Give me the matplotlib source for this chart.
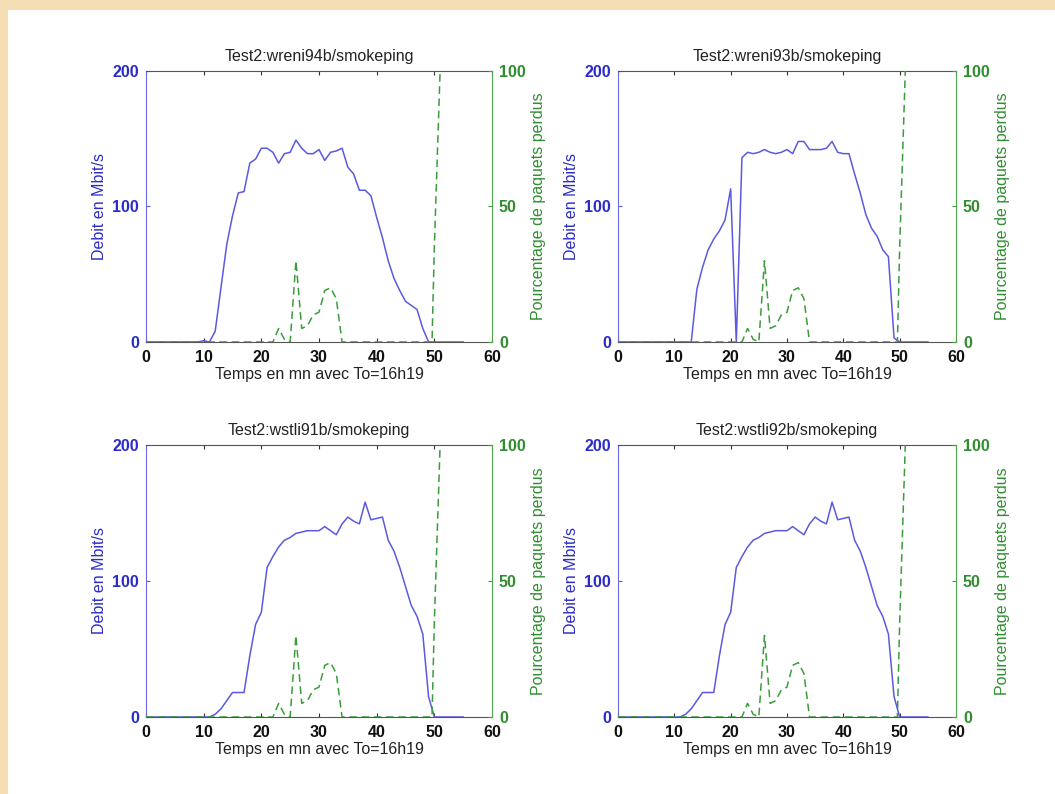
import numpy as np
import matplotlib
matplotlib.use("Agg")
import matplotlib.pyplot as plt
from matplotlib.patches import Rectangle

plt.rcParams['font.family'] = ['Liberation Sans', 'DejaVu Sans']

# time axis (minutes after 16h19)
minutes = np.arange(0, 56)
loss_minutes = list(range(0, 50)) + [49.6, 50, 51]

titles = ["Test2:wreni94b/smokeping", "Test2:wreni93b/smokeping",
          "Test2:wstli91b/smokeping", "Test2:wstli92b/smokeping"]

# throughput in Mbit/s, one value per minute
debit_wreni94b = [0] * 10 + [1, 0, 8, 40, 72, 93, 110, 111, 132, 135,
                             143, 143, 140, 132, 139, 140, 149, 143, 139, 139,
                             142, 134, 140, 141, 143, 129, 124, 112, 112, 108,
                             92, 77, 60, 47, 38, 30, 27, 24, 10, 0] + [0] * 6
debit_wreni93b = [0] * 14 + [39, 55, 68, 76, 82, 90, 113, 0, 136, 140,
                             139, 140, 142, 140, 139, 140, 142, 139, 148, 148,
                             142, 142, 142, 143, 148, 140, 139, 139, 124, 110,
                             94, 84, 78, 68, 63, 3] + [0] * 6
debit_wstli91b = [0] * 12 + [2, 6, 12, 18, 18, 18, 45, 68, 77, 110,
                             118, 125, 130, 132, 135, 136, 137, 137, 137, 140,
                             137, 134, 142, 147, 144, 142, 158, 145, 146, 147,
                             130, 122, 110, 96, 82, 74, 61, 15] + [0] * 6
debit_wstli92b = [0] * 12 + [2, 6, 12, 18, 18, 18, 45, 68, 77, 110,
                             118, 125, 130, 132, 135, 136, 137, 137, 137, 140,
                             137, 134, 142, 147, 144, 142, 158, 145, 146, 147,
                             130, 122, 110, 96, 82, 74, 61, 15] + [0] * 6

# lost packets in %, same for the four probes
pertes = [0] * 23 + [5, 1, 0, 30, 5, 6, 10, 11, 19, 20, 16, 0] + [0] * 15 + [0, 35, 100]

debits = [debit_wreni94b, debit_wreni93b, debit_wstli91b, debit_wstli92b]

BLUE = '#5a5ae0'
BLUE_TXT = '#2b2bc8'
GREEN = '#3c9c3c'
GREEN_TXT = '#2f8f2f'
FS = 11.5

fig = plt.figure(figsize=(10.55, 7.94), dpi=100, facecolor='#f5deb3')
fig.patches.append(Rectangle((8 / 1055, 0), 1, 1 - 10 / 794, transform=fig.transFigure,
                             facecolor='white', edgecolor='none', zorder=-1))

W, H = 1055, 794
# axes boxes in pixels: left, top, right, bottom
boxes = [(146, 71, 492, 342), (618, 71, 956, 342),
         (146, 445, 492, 717), (618, 445, 956, 717)]

for box, title, debit in zip(boxes, titles, debits):
    l, t, r, b = box
    ax = fig.add_axes([l / W, 1 - b / H, (r - l) / W, (b - t) / H])
    ax.plot(minutes, debit, color=BLUE, lw=1.1)
    ax.set_xlim(0, 60)
    ax.set_ylim(0, 200)
    ax.set_xticks(range(0, 61, 10))
    ax.set_yticks([0, 100, 200])
    ax.tick_params(axis='x', direction='in', top=True, length=3, pad=6,
                   colors='#333333', labelcolor='#111111', labelsize=FS)
    ax.tick_params(axis='y', direction='in', length=3, pad=5,
                   colors=BLUE, labelcolor=BLUE_TXT, labelsize=FS)
    for lab in ax.get_xticklabels() + ax.get_yticklabels():
        lab.set_fontweight('bold')
    ax.set_title(title, fontsize=FS, color='#222222', pad=7)
    ax.set_xlabel("Temps en mn avec To=16h19", fontsize=FS, color='#222222', labelpad=1)
    ax.set_ylabel("Debit en Mbit/s", fontsize=FS, color=BLUE_TXT, labelpad=4)
    ax.spines['left'].set_color('#6a6ae0')
    ax.spines['right'].set_visible(False)
    ax.spines['top'].set_color('#555555')
    ax.spines['bottom'].set_color('#555555')

    ax2 = ax.twinx()
    ax2.plot(loss_minutes, pertes, color=GREEN, lw=1.1, ls=(0, (5, 3)))
    ax2.set_ylim(0, 100)
    ax2.set_yticks([0, 50, 100])
    ax2.tick_params(axis='y', direction='in', length=3, pad=5,
                    colors=GREEN, labelcolor=GREEN_TXT, labelsize=FS)
    for lab in ax2.get_yticklabels():
        lab.set_fontweight('bold')
    ax2.set_ylabel("Pourcentage de paquets perdus", fontsize=FS, color=GREEN_TXT, labelpad=4)
    ax2.spines['right'].set_color('#50a850')
    for s in ('left', 'top', 'bottom'):
        ax2.spines[s].set_visible(False)

fig.savefig("out.png", dpi=100, facecolor=fig.get_facecolor())
